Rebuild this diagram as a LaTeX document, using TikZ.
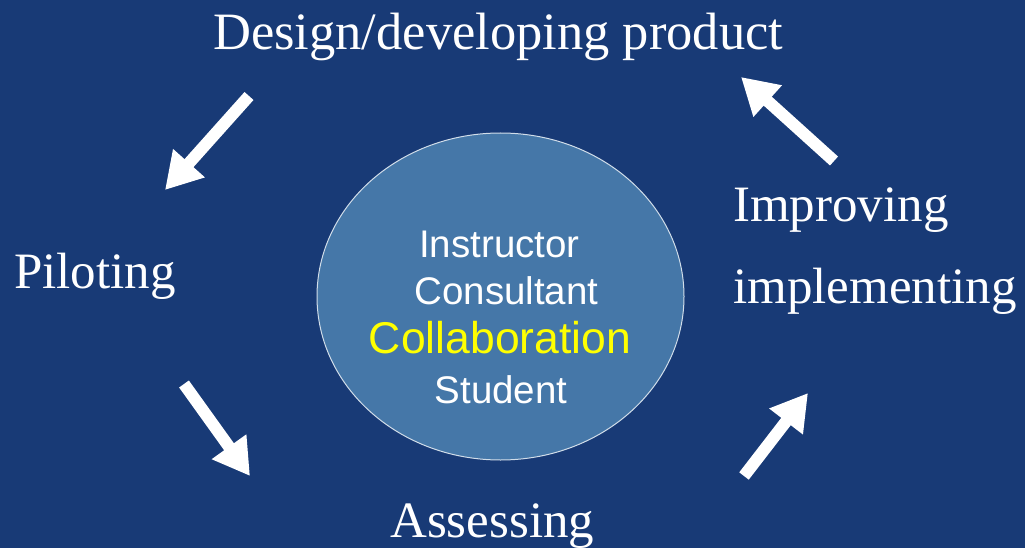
\documentclass[tikz,border=0pt]{standalone}
\usepackage{fontspec}
\setmainfont{Liberation Serif}
\setsansfont{Liberation Sans}
\usetikzlibrary{arrows.meta,shapes.geometric}
\definecolor{bgblue}{HTML}{183A76}
\definecolor{hubblue}{HTML}{4577A8}
\definecolor{hubyellow}{HTML}{FFFF00}
\tikzset{
  stage/.style={text=white, inner sep=0pt, font=\fontsize{51}{60}\selectfont},
  role/.style={text=white, inner sep=0pt, anchor=base, font=\sffamily\fontsize{38.5}{46}\selectfont},
  cyclearrow/.style={white, line width=12pt, -{Triangle[width=40pt,length=36pt]}}
}
\begin{document}
\begin{tikzpicture}[x=1pt,y=-1pt]
    \fill[bgblue] (0,0) rectangle (1025,548);
    \useasboundingbox (0,0) rectangle (1025,548);
    % centre
    \node[ellipse, fill=hubblue, draw=white!75!hubblue, line width=1pt,
          minimum width=367pt, minimum height=327pt, inner sep=0pt] (hub) at (500.5,296.5) {};
    \node[role] (instructor) at (499.5,257) {Instructor};
    \node[role] (consultant) at (506.5,304) {Consultant};
    \node[role, text=hubyellow, font=\sffamily\fontsize{44.5}{52}\selectfont] (collab) at (500,353) {Collaboration};
    \node[role] (student) at (501,403) {Student};
    % stages
    \node[stage, anchor=base west, font=\fontsize{52.5}{62}\selectfont] (design) at (213,50) {Design/developing product};
    \node[stage, anchor=base west] (piloting) at (14,288) {Piloting};
    \node[stage, anchor=base west] (assessing) at (390,537) {Assessing};
    \node[stage, anchor=base west] (improving) at (733,222) {Improving};
    \node[stage, anchor=base west] (implementing) at (733,303) {implementing};
    % arrows
    \coordinate (a1s) at (249,96);  \coordinate (a1e) at (165,190);
    \coordinate (a2s) at (184,384); \coordinate (a2e) at (250,476);
    \coordinate (a3s) at (744,476); \coordinate (a3e) at (808,393);
    \coordinate (a4s) at (834,161); \coordinate (a4e) at (741,77);
    \draw[cyclearrow] (a1s) -- (a1e);
    \draw[cyclearrow] (a2s) -- (a2e);
    \draw[cyclearrow] (a3s) -- (a3e);
    \draw[cyclearrow] (a4s) -- (a4e);
\end{tikzpicture}
\end{document}
